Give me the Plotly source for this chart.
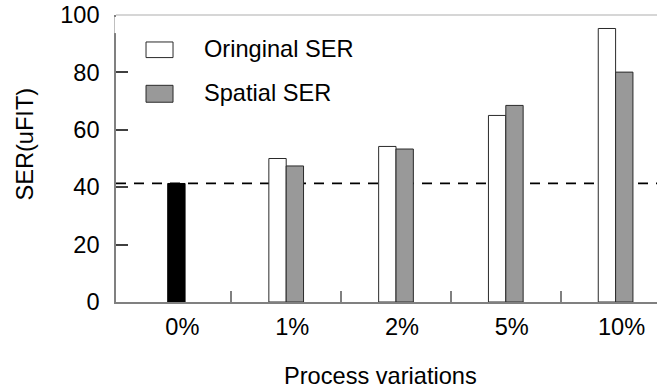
import plotly.graph_objects as go

categories = ["0%", "1%", "2%", "5%", "10%"]
original_ser = [None, 50.0, 54.2, 65.0, 95.3]
spatial_ser = [None, 47.4, 53.3, 68.5, 80.1]
baseline_ser = [41.3, None, None, None, None]
baseline_level = 41.3
y_ticks = [0, 20, 40, 60, 80, 100]
series_names = ["Oringinal SER", "Spatial SER"]

FONT = "Liberation Sans, Arial, sans-serif"
FS = 23.6
AXIS_C = "#808080"
EDGE_C = "#2a2a2a"
GRAY = "#999999"
BW = 0.158

fig = go.Figure()
fig.add_trace(go.Bar(x=categories, y=original_ser, name=series_names[0],
                     width=BW, offset=-BW, marker=dict(color="white", line=dict(color=EDGE_C, width=1)),
                     showlegend=False))
fig.add_trace(go.Bar(x=categories, y=spatial_ser, name=series_names[1],
                     width=BW, offset=0, marker=dict(color=GRAY, line=dict(color=EDGE_C, width=1)),
                     showlegend=False))
fig.add_trace(go.Bar(x=categories, y=baseline_ser, name="Baseline",
                     width=BW, offset=-BW / 2, marker=dict(color="black", line=dict(color="black", width=1)),
                     showlegend=False))
# invisible trace to carry the boundary tick axis
fig.add_trace(go.Scatter(x=[None], y=[None], xaxis="x2", showlegend=False, hoverinfo="skip"))

shapes = [
    dict(type="line", xref="paper", yref="y", x0=0, x1=1, y0=baseline_level, y1=baseline_level,
         line=dict(color="black", width=1.8, dash="10px,8px"), layer="below"),
    dict(type="line", xref="paper", yref="paper", x0=0, x1=1, y0=1, y1=1,
         line=dict(color="#c8c8c8", width=1.5)),
    # small gap in the left axis line near the top, as in the reference
    dict(type="line", xref="paper", yref="paper", x0=0, x1=0, y0=0.937, y1=0.993,
         line=dict(color="white", width=3)),
    # legend symbols
    dict(type="rect", xref="paper", yref="paper", x0=0.0555, x1=0.1054, y0=0.8516, y1=0.906,
         line=dict(color=EDGE_C, width=1), fillcolor="white"),
    dict(type="rect", xref="paper", yref="paper", x0=0.0555, x1=0.1054, y0=0.696, y1=0.755,
         line=dict(color=EDGE_C, width=1), fillcolor=GRAY),
]

annotations = [
    dict(text=series_names[0], xref="paper", yref="paper", x=0.1584, y=0.8805,
         xanchor="left", yanchor="middle", showarrow=False, font=dict(size=FS, color="black", family=FONT)),
    dict(text=series_names[1], xref="paper", yref="paper", x=0.1584, y=0.727,
         xanchor="left", yanchor="middle", showarrow=False, font=dict(size=FS, color="black", family=FONT)),
    dict(text="Process variations", xref="paper", yref="paper", x=0.489, y=-0.257,
         xanchor="center", yanchor="middle", showarrow=False, font=dict(size=FS, color="black", family=FONT)),
    dict(text="SER(uFIT)", xref="paper", yref="paper", x=-0.168, y=0.549, textangle=-90,
         xanchor="center", yanchor="middle", showarrow=False, font=dict(size=FS, color="black", family=FONT)),
]

XR = [-0.55, 4.377]
fig.update_layout(
    width=657, height=388,
    margin=dict(l=116, r=0, t=15, b=86),
    paper_bgcolor="white", plot_bgcolor="white",
    barmode="overlay",
    font=dict(family=FONT, size=FS, color="black"),
    xaxis=dict(type="category", range=XR, showgrid=False, zeroline=False,
               showline=True, linecolor=AXIS_C, linewidth=1.5, ticks="",
               ticklabelshift=6, ticklabelstandoff=3,
               tickfont=dict(size=FS, family=FONT, color="black")),
    xaxis2=dict(overlaying="x", anchor="y", side="bottom", range=XR, showgrid=False, zeroline=False,
                showline=False, showticklabels=False, ticks="inside", ticklen=11,
                tickcolor=AXIS_C, tickwidth=1.5, tickmode="array", tickvals=[0.5, 1.5, 2.5, 3.5]),
    yaxis=dict(range=[0, 100], tickmode="array", tickvals=y_ticks, showgrid=False, zeroline=False,
               showline=True, linecolor=AXIS_C, linewidth=1.5, ticks="inside", ticklen=12,
               tickcolor="#404040", tickwidth=1.5, ticklabelstandoff=10, ticklabeloverflow="allow",
               tickfont=dict(size=FS, family=FONT, color="black")),
    shapes=shapes, annotations=annotations,
)

fig.write_html("out.html", config={"displayModeBar": False},
               post_script="document.body.style.margin='0';")
